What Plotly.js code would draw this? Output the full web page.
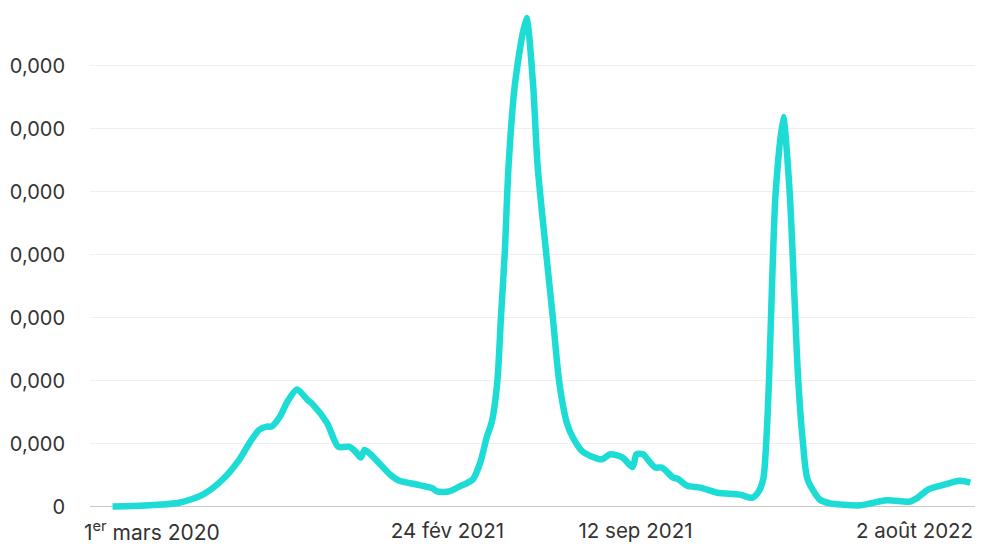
<!DOCTYPE html>
<html>
<head>
<meta charset="utf-8">
<script src="https://cdn.plot.ly/plotly-3.0.1.min.js"></script>
<style>
  html, body { margin: 0; padding: 0; background: #ffffff; }
  #chart { width: 982px; height: 544px; }
</style>
</head>
<body>
<div id="chart"></div>
<script>
// Data (values in units of one grid step)
const dates = [
  "2020-03-05","2020-04-13","2020-05-15","2020-06-09","2020-06-30","2020-07-18","2020-07-29",
  "2020-08-08","2020-08-16","2020-08-21","2020-08-30","2020-09-07","2020-09-17","2020-09-28",
  "2020-10-04","2020-10-19","2020-10-31","2020-11-12","2020-11-19","2020-11-24","2020-11-28",
  "2020-12-07","2020-12-25","2021-01-04","2021-01-22","2021-02-08","2021-02-13","2021-02-26",
  "2021-03-09","2021-03-23","2021-03-31","2021-04-07","2021-04-12","2021-04-18","2021-04-22",
  "2021-04-26","2021-04-30","2021-05-07","2021-05-19","2021-05-26","2021-05-31","2021-06-09",
  "2021-06-16","2021-06-23","2021-07-01","2021-07-07","2021-07-18","2021-08-07","2021-08-16",
  "2021-08-29","2021-09-09","2021-09-13","2021-09-20","2021-09-27","2021-10-03","2021-10-10",
  "2021-10-22","2021-10-27","2021-11-06","2021-11-20","2021-12-08","2022-01-01","2022-01-14",
  "2022-01-21","2022-01-26","2022-01-29","2022-02-01","2022-02-04","2022-02-08","2022-02-16",
  "2022-02-23","2022-02-28","2022-03-04","2022-03-09","2022-03-14","2022-03-27","2022-04-07",
  "2022-04-20","2022-05-09","2022-06-06","2022-07-01","2022-07-09","2022-07-20","2022-08-02",
  "2022-08-23","2022-09-03"
];
const values = [
  0.00,0.02,0.06,0.19,0.43,0.75,1.02,
  1.22,1.27,1.27,1.43,1.67,1.86,1.70,
  1.62,1.33,0.95,0.95,0.86,0.78,0.90,
  0.79,0.51,0.41,0.35,0.29,0.24,0.24,
  0.32,0.43,0.70,1.11,1.33,1.97,3.02,
  4.03,5.40,6.73,7.76,6.73,5.40,4.03,
  3.02,1.97,1.33,1.11,0.87,0.75,0.83,
  0.78,0.63,0.83,0.83,0.71,0.62,0.62,
  0.46,0.44,0.33,0.30,0.22,0.19,0.14,
  0.24,0.45,1.02,2.02,3.44,4.98,6.19,
  4.98,3.33,2.02,1.02,0.43,0.11,0.05,
  0.03,0.02,0.10,0.08,0.14,0.27,0.33,
  0.41,0.38
];
const yTickVals = [0,1,2,3,4,5,6,7];
const yTickText = ["0","0,000","0,000","0,000","0,000","0,000","0,000","0,000"];
const xTickVals = ["2021-02-24","2021-09-12"];
const xTickText = ["24 fév 2021","12 sep 2021"];
const firstLabel = "1<sup>er</sup> mars 2020";
const lastLabel = "2 août 2022";

const FONT = "Inter, 'Noto Sans', 'DejaVu Sans', sans-serif";
const TXT = "#333333";

const trace = {
  x: dates, y: values, type: "scatter", mode: "lines",
  line: { color: "#1ddcd6", width: 6.5, shape: "spline", smoothing: 0.7 },
  hoverinfo: "skip"
};

const layout = {
  width: 982, height: 544,
  margin: { l: 90, r: 7, t: 3, b: 27.5 },
  paper_bgcolor: "#ffffff", plot_bgcolor: "#ffffff",
  showlegend: false,
  font: { family: FONT, color: TXT, size: 20 },
  xaxis: {
    type: "date",
    range: ["2020-02-10", "2022-09-08"],
    tickvals: xTickVals, ticktext: xTickText,
    showgrid: false, zeroline: false, showline: false,
    ticks: "", ticklabelstandoff: 0,
    tickfont: { family: FONT, size: 20.5, color: TXT },
    automargin: false, fixedrange: true
  },
  yaxis: {
    range: [-0.15, 8.0],
    tickvals: yTickVals, ticktext: yTickText,
    showgrid: true, gridcolor: "#efefef", gridwidth: 1,
    zeroline: true, zerolinecolor: "#c9c9c9", zerolinewidth: 1.5,
    showline: false, ticks: "",
    ticklabelstandoff: 24,
    tickfont: { family: FONT, size: 20, color: TXT },
    automargin: false, fixedrange: true
  },
  annotations: [
    { xref: "paper", yref: "paper", x: -0.009, y: -0.029, xanchor: "left", yanchor: "middle",
      text: firstLabel, showarrow: false, font: { family: FONT, size: 21, color: TXT } },
    { xref: "paper", yref: "paper", x: 1.0, y: -0.029, xanchor: "right", yanchor: "middle",
      text: lastLabel, showarrow: false, font: { family: FONT, size: 20.5, color: TXT } }
  ]
};

Plotly.newPlot("chart", [trace], layout, { staticPlot: true, displayModeBar: false });
</script>
</body>
</html>
